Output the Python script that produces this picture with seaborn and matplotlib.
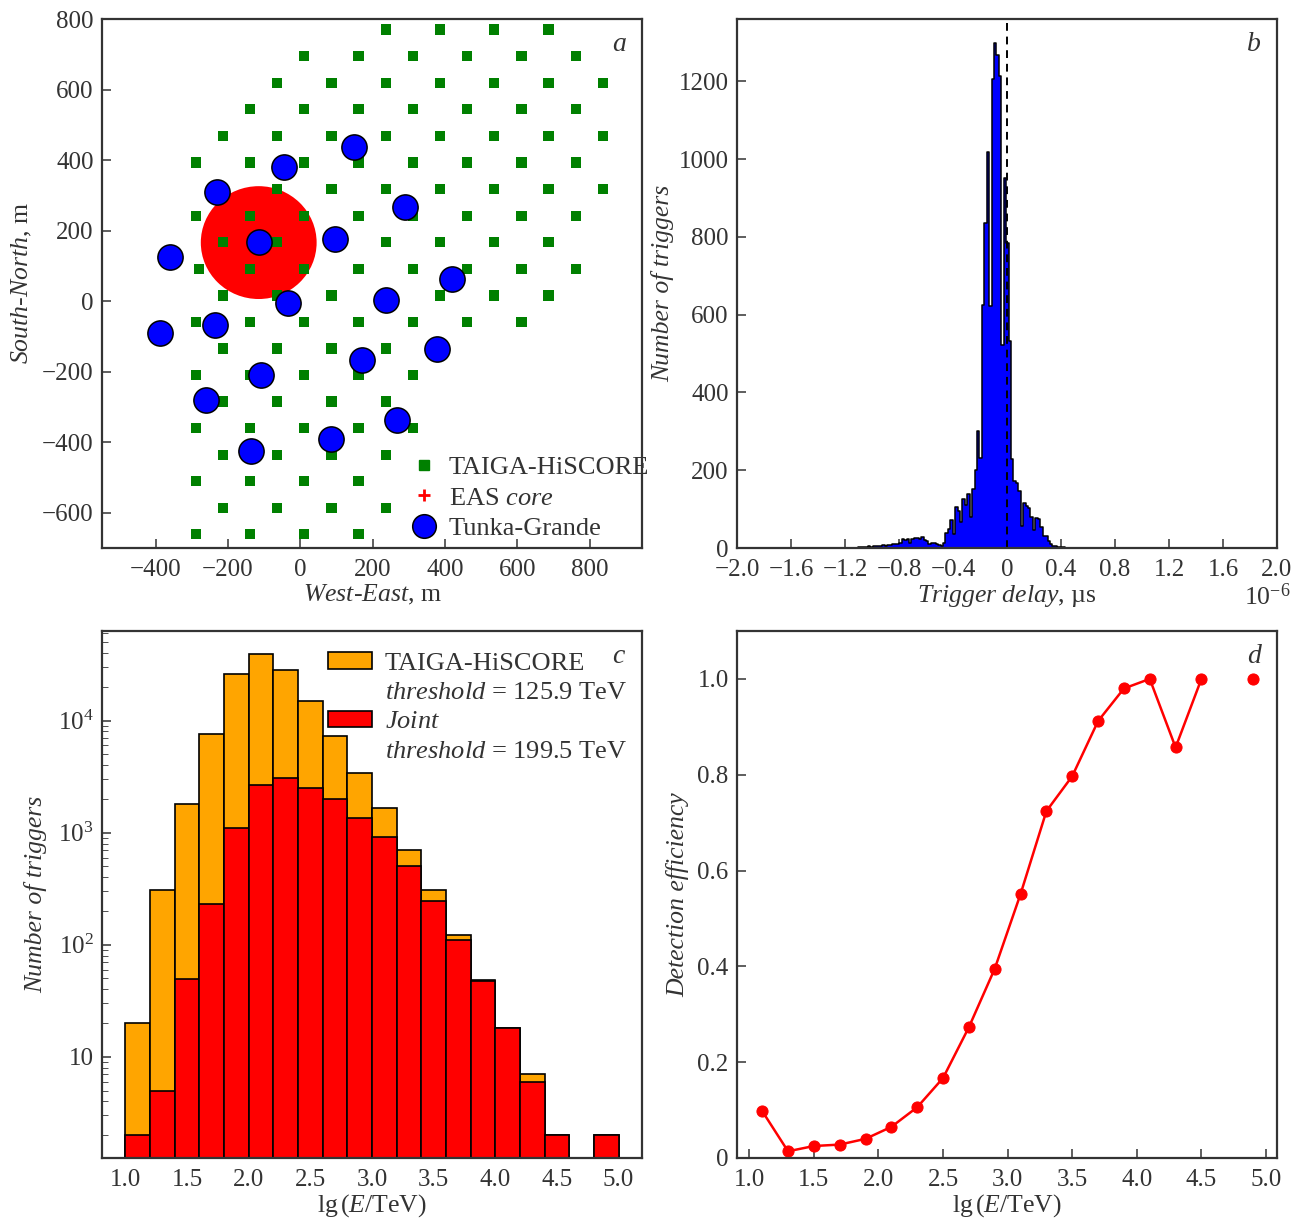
import numpy as np
import pandas as pd
import matplotlib.pyplot as plt
import seaborn as sns
from matplotlib.patches import Ellipse, Rectangle
from matplotlib.lines import Line2D

# ---- panel a: array layout (m) ----
# TAIGA-HiSCORE stations, row y -> station x positions
hiscore_rows = {
    770: [236, 386, 536, 686],
    695: [11, 161, 311, 461, 611, 761],
    619: [-64, 86, 236, 386, 536, 686, 836],
    544: [-139, 11, 161, 311, 461, 611, 761],
    469: [-214, -64, 86, 236, 386, 536, 686, 836],
    393: [-289, -139, 11, 161, 311, 461, 611, 761],
    318: [-214, -64, 86, 236, 386, 536, 686, 836],
    242: [-289, -139, 11, 161, 311, 461, 611, 761],
    167: [-214, -64, 86, 236, 386, 536, 686],
    91: [-280, -139, 11, 161, 311, 461, 611, 761],
    16: [-214, -64, 86, 236, 386, 536, 686],
    -59: [-289, -139, 11, 161, 311, 461, 611],
    -134: [-214, -64, 86, 236, 386],
    -210: [-289, -139, 11, 161, 311],
    -285: [-214, -64, 86, 236],
    -360: [-289, -139, 11, 161, 311],
    -436: [-214, -64, 86, 236],
    -511: [-289, -139, 11, 161],
    -587: [-214, -64, 86, 236],
    -661: [-289, -139, 11, 161],
}
tunka_x = [148, -45, -231, 290, -114, 97, -360, 420, -35, 236,
           -389, -235, 378, 170, -108, -260, 268, 84, -137]
tunka_y = [437, 380, 309, 268, 168, 177, 126, 64, -4, 4,
           -90, -69, -137, -167, -210, -281, -338, -390, -424]
core_center = (-115, 166)
core_radius = 160

# ---- panel b: trigger delay histogram (us) ----
delay_edges = [round(k * 0.018 - 0.042, 3) for k in range(-63, 30)]
delay_counts = [
    1, 1, 1, 1, 2, 2, 2, 3, 4, 3, 4, 4, 6, 5, 7, 6, 7, 8, 9, 11,
    10, 12, 24, 21, 24, 12, 24, 26, 25, 22, 27, 20, 17, 9, 13, 13, 10, 8, 5, 12,
    39, 49, 71, 36, 105, 95, 66, 126, 111, 139, 79, 152, 200, 302, 231, 624, 835, 1018, 622, 1207,
    1299, 1267, 1213, 521, 950, 783, 531, 230, 171, 168, 146, 57, 115, 108, 103, 80, 47, 77, 74, 55,
    32, 30, 17, 9, 6, 5, 3, 2, 2, 1, 1, 1,
]

# ---- panel c: energy spectra ----
lg_edges = [round(1.0 + 0.2 * k, 1) for k in range(21)]
hiscore_counts = [20, 305, 1800, 7600, 25900, 39000, 28300, 14900, 7240, 3390,
                  1660, 705, 310, 123, 48, 18, 7, 2, 0, 2]
joint_counts = [2, 5, 49, 231, 1100, 2670, 3050, 2500, 2000, 1350,
                921, 508, 247, 111, 47, 18, 6, 2, 0, 2]

# ---- panel d: detection efficiency ----
eff_lg = [1.1, 1.3, 1.5, 1.7, 1.9, 2.1, 2.3, 2.5, 2.7, 2.9,
          3.1, 3.3, 3.5, 3.7, 3.9, 4.1, 4.3, 4.5, 4.7, 4.9]
eff_val = [0.098, 0.014, 0.025, 0.028, 0.040, 0.065, 0.106, 0.167, 0.273, 0.395,
           0.551, 0.724, 0.797, 0.912, 0.980, 1.0, 0.857, 1.0, np.nan, 1.0]

sns.set_style("ticks")
ink = "#333333"
fs = 18.5
plt.rcParams.update({
    "font.family": ["Liberation Serif", "DejaVu Serif"],
    "mathtext.fontset": "custom",
    "mathtext.rm": "Liberation Serif",
    "mathtext.it": "Liberation Serif:italic",
    "mathtext.bf": "Liberation Serif:bold",
    "font.size": fs,
    "text.color": ink,
    "axes.labelcolor": ink,
    "axes.edgecolor": ink,
    "axes.linewidth": 1.6,
    "xtick.color": ink,
    "ytick.color": ink,
    "xtick.labelsize": 18,
    "ytick.labelsize": 18,
    "xtick.direction": "in",
    "ytick.direction": "in",
    "xtick.major.size": 6.5,
    "ytick.major.size": 6.5,
    "xtick.minor.size": 4,
    "ytick.minor.size": 4,
    "xtick.major.width": 1.1,
    "ytick.major.width": 1.1,
    "xtick.major.pad": 8,
    "ytick.major.pad": 6,
})

W, H = 1303, 1227
fig = plt.figure(figsize=(W / 100, H / 100), dpi=100)


def px_axes(left, top, right, bottom):
    return fig.add_axes([left / W, 1 - bottom / H, (right - left) / W, (bottom - top) / H])


ax_a = px_axes(102, 19, 642, 548)
ax_b = px_axes(737, 19, 1277, 548)
ax_c = px_axes(102, 631, 642, 1158)
ax_d = px_axes(737, 631, 1277, 1158)

# ---------- a ----------
hs = pd.DataFrame(
    [(x, y) for y, xs in hiscore_rows.items() for x in xs], columns=["x", "y"]
)
tg = pd.DataFrame({"x": tunka_x, "y": tunka_y})
ax_a.add_patch(Ellipse(core_center, 2 * core_radius, 2 * core_radius,
                       color="red", lw=0, zorder=1))
sns.scatterplot(data=hs, x="x", y="y", marker="s", s=55, color="green",
                edgecolor="none", ax=ax_a, zorder=2)
sns.scatterplot(data=tg, x="x", y="y", marker="o", s=330, color="blue",
                edgecolor="black", linewidth=1.1, ax=ax_a, zorder=3)
ax_a.set_xlim(-548, 944)
ax_a.set_ylim(-700, 800)
ax_a.set_xticks(range(-400, 801, 200))
ax_a.set_yticks(range(-600, 801, 200))
ax_a.set_xlabel(r"$West$-$East$, m", labelpad=1)
ax_a.set_ylabel(r"$South$-$North$, m", labelpad=6)
handles_a = [
    Line2D([], [], ls="none", marker="s", ms=7, color="green"),
    Line2D([], [], ls="none", marker="+", ms=8, mew=2, color="red"),
    Line2D([], [], ls="none", marker="o", ms=17, mfc="blue", mec="black", mew=1.1),
]
ax_a.legend(handles_a, ["TAIGA-HiSCORE", r"EAS $core$", "Tunka-Grande"],
            loc="lower left", bbox_to_anchor=(0.535, -0.022), frameon=False,
            handlelength=1.0, handletextpad=0.45, labelspacing=0.26,
            borderpad=0.25, fontsize=19)

# ---------- b ----------
delays = pd.DataFrame({
    "delay": [(lo + hi) / 2 for lo, hi in zip(delay_edges[:-1], delay_edges[1:])],
    "n": delay_counts,
})
sns.histplot(data=delays, x="delay", weights="n", bins=delay_edges,
             element="step", fill=True, color="blue", edgecolor="black",
             linewidth=1.1, alpha=1, ax=ax_b)
ax_b.axvline(0, color="black", ls="--", lw=1.4, dashes=(4, 3))
ax_b.set_xlim(-2.0, 2.0)
ax_b.set_ylim(0, 1360)
bt = [-2.0, -1.6, -1.2, -0.8, -0.4, 0, 0.4, 0.8, 1.2, 1.6, 2.0]
ax_b.set_xticks(bt)
ax_b.set_xticklabels(["0" if v == 0 else f"{v:.1f}".replace("-", "\u2212") for v in bt])
ax_b.set_yticks(range(0, 1201, 200))
ax_b.set_xlabel(r"$Trigger\ delay$, µs", labelpad=1)
ax_b.set_ylabel("Number of triggers", fontstyle="italic", labelpad=3)
ax_b.text(1.025, -0.092, r"10$^{-6}$", transform=ax_b.transAxes,
          ha="right", va="center")

# ---------- c ----------
spectra = pd.DataFrame({
    "lg": [(lo + hi) / 2 for lo, hi in zip(lg_edges[:-1], lg_edges[1:])],
    "hiscore": hiscore_counts,
    "joint": joint_counts,
})
sns.histplot(data=spectra, x="lg", weights="hiscore", bins=lg_edges, color="orange",
             edgecolor="black", linewidth=1.2, alpha=1, ax=ax_c)
sns.histplot(data=spectra, x="lg", weights="joint", bins=lg_edges, color="red",
             edgecolor="black", linewidth=1.2, alpha=1, ax=ax_c)
ax_c.set_yscale("log")
ax_c.set_xlim(0.81, 5.19)
ax_c.set_ylim(1.25, 63000)
xt = [1.0, 1.5, 2.0, 2.5, 3.0, 3.5, 4.0, 4.5, 5.0]
ax_c.set_xticks(xt)
ax_c.set_xticklabels([f"{v:.1f}" for v in xt])
ax_c.set_yticks([10, 100, 1000, 10000])
ax_c.set_yticklabels(["10", r"10$^2$", r"10$^3$", r"10$^4$"])
ax_c.tick_params(axis="x", which="major", color="white", width=2)
ax_c.set_xlabel(r"lg$\,$($E$/TeV)", labelpad=1)
ax_c.set_ylabel("Number of triggers", fontstyle="italic", labelpad=8)
blank = Rectangle((0, 0), 1, 1, fill=False, edgecolor="none")
handles_c = [
    Rectangle((0, 0), 1, 1, facecolor="orange", edgecolor="black", lw=1.2),
    blank,
    Rectangle((0, 0), 1, 1, facecolor="red", edgecolor="black", lw=1.2),
    blank,
]
labels_c = ["TAIGA-HiSCORE", r"$threshold$ = 125.9 TeV",
            r"$Joint$", r"$threshold$ = 199.5 TeV"]
ax_c.legend(handles_c, labels_c, loc="upper left", bbox_to_anchor=(0.38, 1.0),
            frameon=False, handlelength=1.65, handleheight=0.6,
            handletextpad=0.5, labelspacing=0.25, borderpad=0.3, fontsize=19)

# ---------- d ----------
eff = pd.DataFrame({"lg": eff_lg, "eff": eff_val})
eff["segment"] = eff["eff"].isna().cumsum()
sns.lineplot(data=eff.dropna(), x="lg", y="eff", units="segment", estimator=None,
             color="red", lw=1.8, marker="o", ms=8, mec="red", ax=ax_d)
ax_d.set_xlim(0.905, 5.085)
ax_d.set_ylim(0, 1.1)
ax_d.set_xticks(xt)
ax_d.set_xticklabels([f"{v:.1f}" for v in xt])
ax_d.set_yticks([0, 0.2, 0.4, 0.6, 0.8, 1.0])
ax_d.set_yticklabels(["0", "0.2", "0.4", "0.6", "0.8", "1.0"])
ax_d.set_xlabel(r"lg$\,$($E$/TeV)", labelpad=1)
ax_d.set_ylabel("Detection efficiency", fontstyle="italic", labelpad=6)

for ax, letter in [(ax_a, "a"), (ax_b, "b"), (ax_c, "c"), (ax_d, "d")]:
    ax.text(0.957, 0.952, letter, transform=ax.transAxes, ha="center",
            va="center", fontstyle="italic", fontsize=20)

fig.savefig("out.png", dpi=100)
